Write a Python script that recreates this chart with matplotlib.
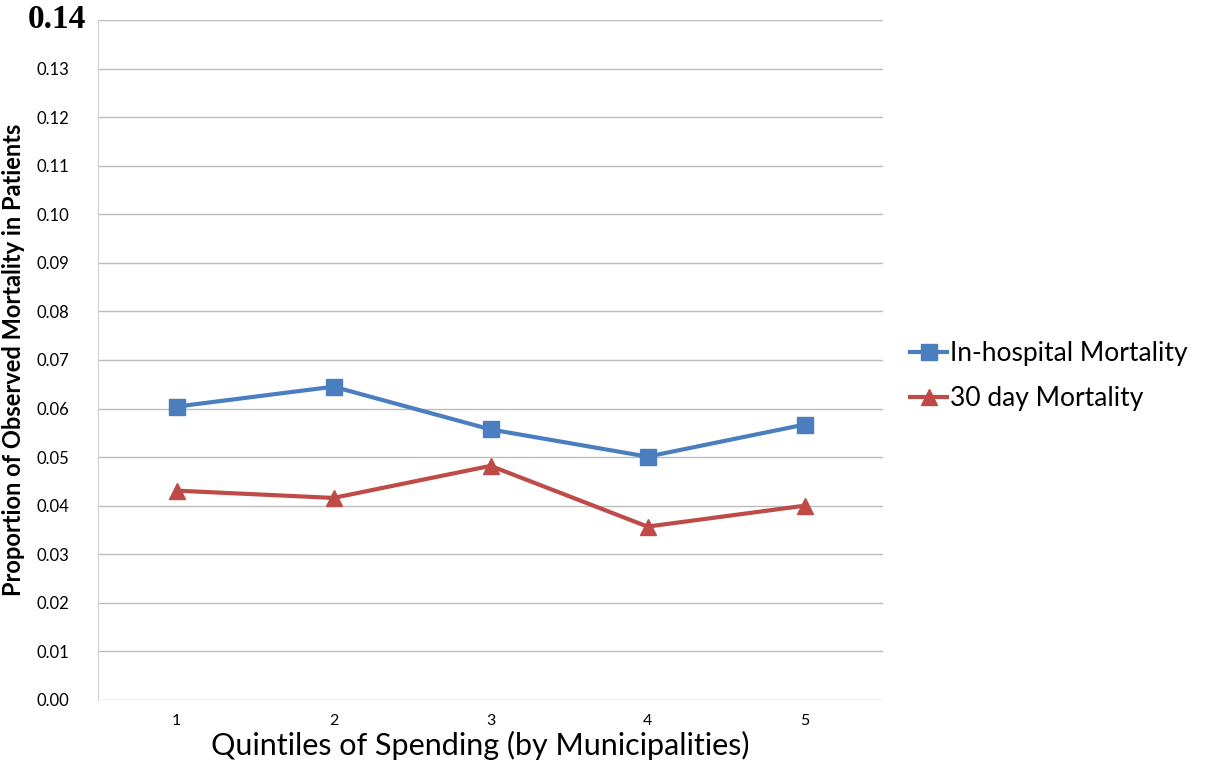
import matplotlib.pyplot as plt

# ---------------------------------------------------------------------------
# DATA
# ---------------------------------------------------------------------------
quintiles = [1, 2, 3, 4, 5]
in_hospital = [0.0604, 0.0645, 0.0557, 0.0501, 0.0567]
day30 = [0.0431, 0.0416, 0.0482, 0.0357, 0.0400]
y_ticks = [0.00, 0.01, 0.02, 0.03, 0.04, 0.05, 0.06, 0.07,
           0.08, 0.09, 0.10, 0.11, 0.12, 0.13]
top_label = "0.14"

BLUE = "#4a7ebf"
RED = "#be4b48"
GRID = "#bdbdbd"

plt.rcParams["font.family"] = ["Lato", "DejaVu Sans"]

fig = plt.figure(figsize=(12.07, 7.63), dpi=100)
ax = fig.add_axes([0.0812, 0.0826, 0.6504, 0.8912])

ax.plot(quintiles, in_hospital, "-s", color=BLUE, linewidth=3,
        markersize=11, label="In-hospital Mortality")
ax.plot(quintiles, day30, "-^", color=RED, linewidth=3,
        markersize=11, label="30 day Mortality")

ax.set_xlim(0.5, 5.5)
ax.set_ylim(0, 0.14)
ax.set_yticks(y_ticks + [0.14])
ax.set_yticklabels([f"{v:.2f}" for v in y_ticks] + [""], fontsize=12)
ax.set_xticks(quintiles)
ax.set_xticklabels([str(q) for q in quintiles], fontsize=11.5)
ax.tick_params(length=0, pad=21)
ax.tick_params(axis="x", pad=10)
ax.grid(axis="y", color=GRID, linewidth=1)
ax.set_axisbelow(True)
for s in ["top", "right", "bottom"]:
    ax.spines[s].set_visible(False)
ax.spines["left"].set_color("#d0d0d0")

# bold serif top value, as in the scanned original
fig.text(0.0475, 0.9738, top_label, fontsize=24, fontweight="bold",
         family="Liberation Serif", ha="center", va="center")

ax.set_ylabel("Proportion of Observed Mortality in Patients",
              fontsize=17, fontweight="bold", labelpad=8)
fig.text(0.398, 0.023, "Quintiles of Spending (by Municipalities)",
         fontsize=22, ha="center", va="center")

ax.legend(loc="center left", bbox_to_anchor=(0.754, 0.507),
          bbox_transform=fig.transFigure, frameon=False, fontsize=19,
          borderpad=0, borderaxespad=0,
          handlelength=1.4, handletextpad=0.1, labelspacing=0.75)

fig.savefig("out.png", dpi=100)
